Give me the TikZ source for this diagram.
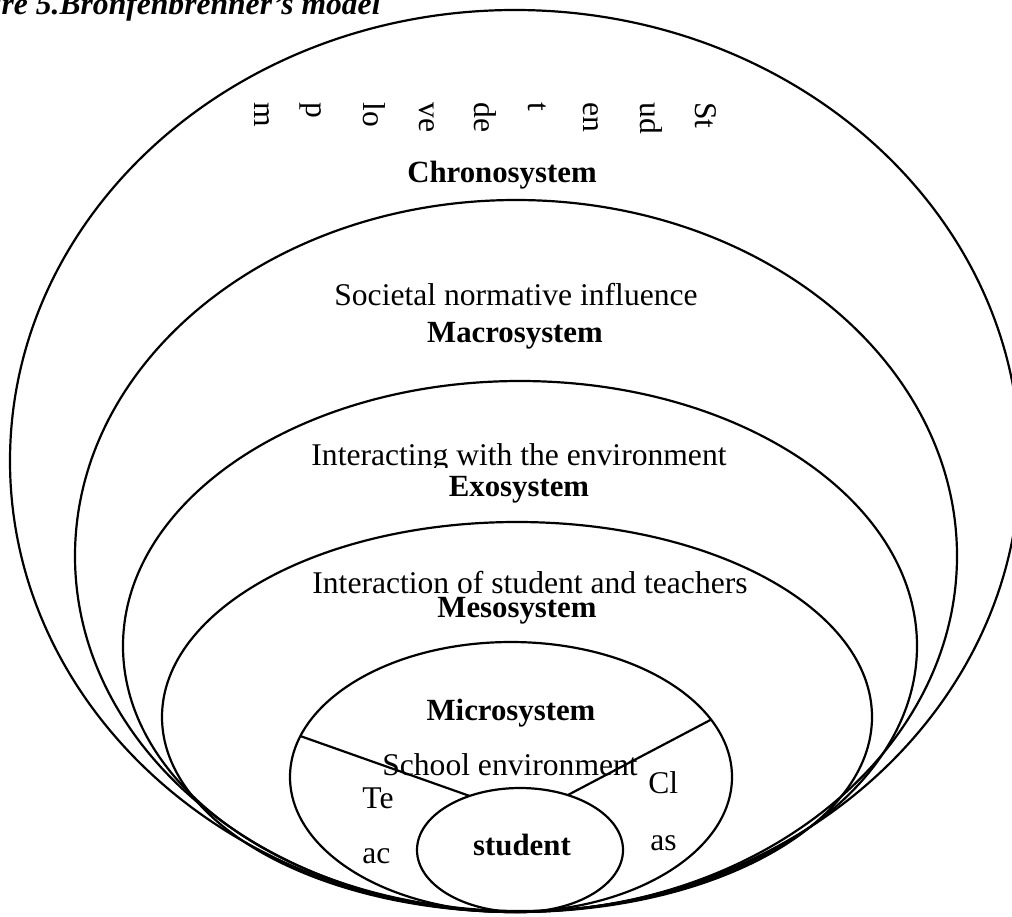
\documentclass[tikz,border=0pt]{standalone}
\usepackage{fontspec}
\setmainfont{Liberation Serif}
\usetikzlibrary{shapes.geometric}
\begin{document}
\begin{tikzpicture}[x=0.5pt,y=-0.5pt,
  ring/.style={draw, ellipse, line width=1.1pt, inner sep=0pt, outer sep=0pt},
  spoke/.style={line width=1.1pt},
  txt/.style={inner sep=0pt, font=\fontsize{15.8}{18}\selectfont},
  lbl/.style={txt, anchor=base},
  head/.style={lbl, font=\fontsize{15.4}{18}\selectfont\bfseries},
  side/.style={txt, anchor=base west},
  vert/.style={txt, anchor=mid west, rotate=-90}]
\useasboundingbox (0,0) rectangle (1012,916);
\clip (0,0) rectangle (1012,916);

% nested systems, all resting on one bottom point
\node[ring, minimum width=505pt, minimum height=451pt] (chrono) at (515,461) {};
\node[ring, minimum width=441pt, minimum height=356pt] (macro)  at (516,556) {};
\node[ring, minimum width=397pt, minimum height=265pt] (exo)    at (520,646) {};
\node[ring, minimum width=355pt, minimum height=195pt] (meso)   at (517,717) {};
\node[ring, minimum width=221pt, minimum height=135pt] (micro)  at (511,777) {};
\node[ring, minimum width=103pt, minimum height=62pt]  (stud)   at (520,850) {};

% dividers inside the microsystem
\draw[spoke] (micro.169.8) -- (stud.133);
\draw[spoke] (micro.16.4) -- (stud.49);

% caption
\node[txt, anchor=base east, font=\fontsize{15.8}{18}\selectfont\bfseries\itshape] (cap) at (381,14) {Figure 5.Bronfenbrenner's model};

% vertical text box, columns run right to left
\node[vert] (v1) at (700,102) {St};
\node[vert] (v2) at (645,102) {ud};
\node[vert] (v3) at (588,102) {en};
\node[vert] (v4) at (533,102) {t};
\node[vert] (v5) at (479,102) {de};
\node[vert] (v6) at (424,102) {ve};
\node[vert] (v7) at (368,102) {lo};
\node[vert] (v8) at (311,102) {p};
\node[vert] (v9) at (259,102) {m};

\node[head] (tchrono) at (502,182) {Chronosystem};

\node[lbl]  (dmacro) at (516,305) {Societal normative influence};
\node[head] (tmacro) at (515,342) {Macrosystem};

\begin{scope}
  \clip (290,420) rectangle (750,467);
  \node[lbl] (dexo) at (519,465) {Interacting with the environment};
\end{scope}
\node[head] (texo) at (519,496) {Exosystem};

\node[lbl]  (dmeso) at (530,593) {Interaction of student and teachers};
\node[head] (tmeso) at (517,617) {Mesosystem};

\node[head] (tmicro) at (511,720) {Microsystem};
\node[lbl]  (dmicro) at (510,775) {School environment};
\node[side] (te) at (362,808) {Te};
\node[side] (ac) at (362,863) {ac};
\node[side] (cl) at (648,793) {Cl};
\node[side] (as) at (650,850) {as};

\node[head] (tstud) at (522,855) {student};
\end{tikzpicture}
\end{document}
